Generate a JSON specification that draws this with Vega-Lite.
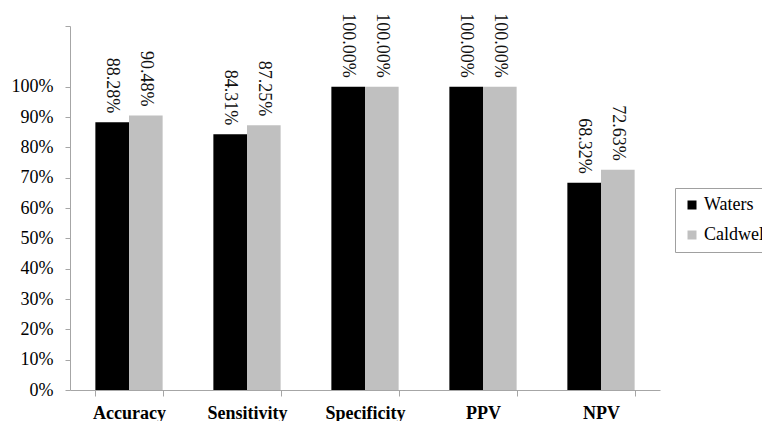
{
  "$schema": "https://vega.github.io/schema/vega-lite/v6.json",
  "autosize": {"type": "none"},
  "padding": {"left": 70, "top": 26, "right": 102, "bottom": 31},
  "width": 590,
  "height": 364,
  "background": "white",
  "config": {
    "view": {"stroke": null},
    "font": "serif",
    "axis": {"labelFont": "serif"},
    "legend": {"labelFont": "serif"},
    "text": {"font": "serif"}
  },
  "data": {
    "values": [
      {"metric": "Accuracy", "method": "Waters", "value": 0.8828},
      {"metric": "Accuracy", "method": "Caldwell", "value": 0.9048},
      {"metric": "Sensitivity", "method": "Waters", "value": 0.8431},
      {"metric": "Sensitivity", "method": "Caldwell", "value": 0.8725},
      {"metric": "Specificity", "method": "Waters", "value": 1.0},
      {"metric": "Specificity", "method": "Caldwell", "value": 1.0},
      {"metric": "PPV", "method": "Waters", "value": 1.0},
      {"metric": "PPV", "method": "Caldwell", "value": 1.0},
      {"metric": "NPV", "method": "Waters", "value": 0.6832},
      {"metric": "NPV", "method": "Caldwell", "value": 0.7263}
    ]
  },
  "encoding": {
    "x": {
      "field": "metric",
      "type": "nominal",
      "sort": ["Accuracy", "Sensitivity", "Specificity", "PPV", "NPV"],
      "scale": {"paddingInner": 0.43, "paddingOuter": 0.215},
      "axis": {
        "title": null,
        "labelAngle": 0,
        "labelFontSize": 18,
        "labelFontWeight": "bold",
        "labelColor": "#000000",
        "labelPadding": 8,
        "tickBand": "extent",
        "tickSize": 6,
        "tickColor": "#a6a6a6",
        "domainColor": "#a6a6a6",
        "grid": false
      }
    },
    "xOffset": {"field": "method", "type": "nominal", "sort": ["Waters", "Caldwell"]},
    "y": {
      "field": "value",
      "type": "quantitative",
      "scale": {"domain": [0, 1.2], "nice": false},
      "axis": {
        "title": null,
        "values": [0, 0.1, 0.2, 0.3, 0.4, 0.5, 0.6, 0.7, 0.8, 0.9, 1.0, 1.2],
        "labelExpr": "datum.value > 1.05 ? '' : format(datum.value, '.0%')",
        "labelOverlap": false,
        "labelFontSize": 18,
        "labelColor": "#000000",
        "labelPadding": 12,
        "tickSize": 5,
        "tickColor": "#a6a6a6",
        "domainColor": "#a6a6a6",
        "grid": false
      }
    }
  },
  "layer": [
    {
      "mark": {"type": "bar"},
      "encoding": {
        "color": {
          "field": "method",
          "type": "nominal",
          "sort": ["Waters", "Caldwell"],
          "scale": {"domain": ["Waters", "Caldwell"], "range": ["#000000", "#c0c0c0"]},
          "legend": {
            "title": null,
            "orient": "none",
            "legendX": 605,
            "legendY": 162,
            "symbolType": "square",
            "symbolSize": 81,
            "symbolStrokeWidth": 0,
            "labelFontSize": 18,
            "labelColor": "#000000",
            "labelOffset": 3,
            "rowPadding": 12,
            "padding": 8,
            "strokeColor": "#a0a0a0",
            "fillColor": "white"
          }
        }
      }
    },
    {
      "mark": {
        "type": "text",
        "angle": 90,
        "align": "right",
        "baseline": "middle",
        "dx": -9,
        "fontSize": 18,
        "color": "#111111"
      },
      "encoding": {
        "text": {"field": "value", "type": "quantitative", "format": ".2%"}
      }
    }
  ]
}
